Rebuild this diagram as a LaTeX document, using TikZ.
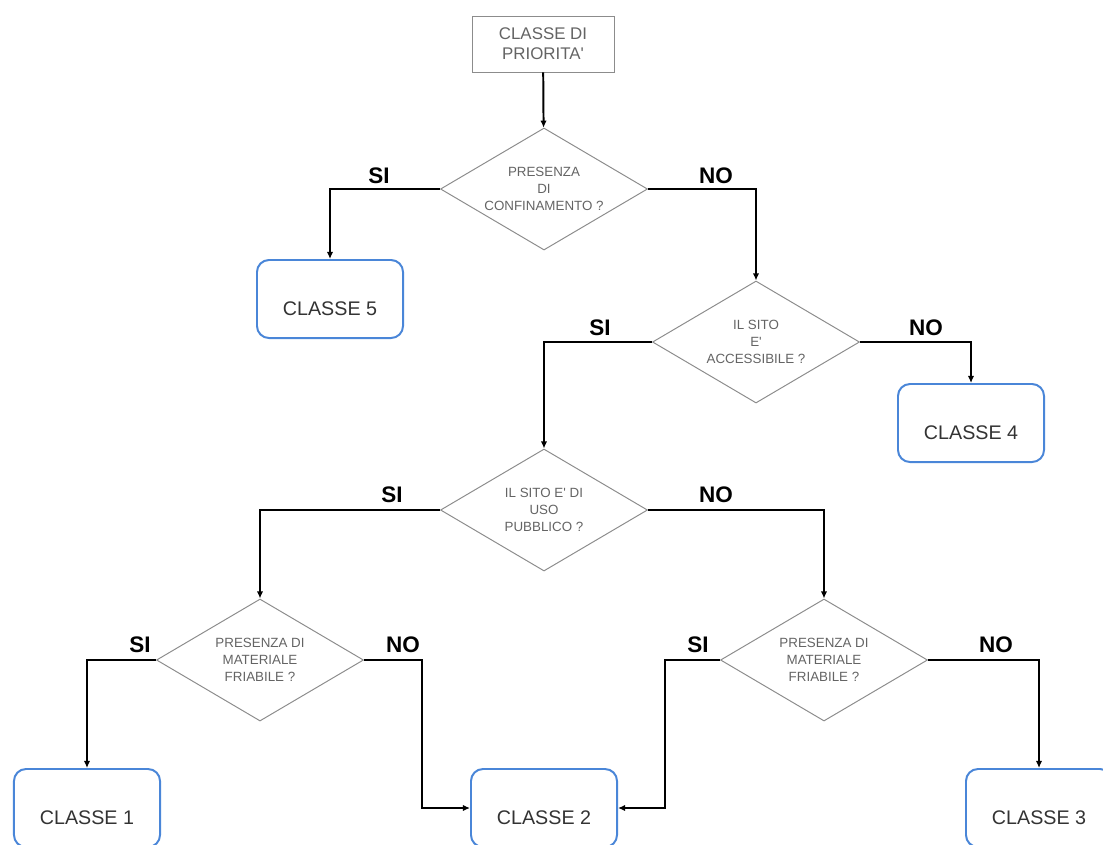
\documentclass[tikz,border=0pt]{standalone}
\usepackage{fontspec}
\setmainfont{Liberation Sans}
\usetikzlibrary{shapes.geometric,arrows.meta}

\definecolor{boxblue}{RGB}{74,134,216}
\definecolor{diagray}{RGB}{140,140,140}
\definecolor{txtgray}{RGB}{100,100,100}

\tikzset{
  conn/.style={>={Latex[length=5pt,width=4.5pt]}, ->, line width=1.4pt},
  question/.style={diamond, draw=diagray, line width=0.7pt, shape aspect=1.7,
    minimum width=5.175cm, minimum height=3.05cm, inner sep=0pt, align=center,
    text=txtgray, font=\fontsize{9.5}{12}\selectfont},
  classbox/.style={rectangle, rounded corners=0.3cm, draw=boxblue, line width=1.4pt,
    minimum width=3.65cm, minimum height=1.95cm, text=black!80,
    font=\fontsize{14}{16}\selectfont, text height=24pt, text depth=0pt},
  answer/.style={font=\fontsize{16}{18}\selectfont\bfseries}
}

\begin{document}
\begin{tikzpicture}[x=0.025cm, y=-0.025cm]

\useasboundingbox (0,0) rectangle (1103,844);

%% start
\node [draw=diagray, line width=0.6pt, minimum width=3.55cm, minimum height=1.4cm,
  align=center, text=txtgray, font=\fontsize{12}{14}\selectfont]
  (prio) at (543,44) {CLASSE DI\\PRIORITA\textquotesingle};

%% questions
\node [question] (q1) at (544,189) {PRESENZA\\DI\\CONFINAMENTO ?};
\node [question] (q2) at (756,342) {IL SITO\\E\textquotesingle\\ACCESSIBILE ?};
\node [question] (q3) at (544,510) {IL SITO E\textquotesingle{} DI\\USO\\PUBBLICO ?};
\node [question] (q4) at (260,660) {PRESENZA DI\\MATERIALE\\FRIABILE ?};
\node [question] (q5) at (824,660) {PRESENZA DI\\MATERIALE\\FRIABILE ?};

%% classes
\node [classbox] (c5) at (330,299) {CLASSE 5};
\node [classbox] (c4) at (971,423) {CLASSE 4};
\node [classbox] (c1) at (87,808) {CLASSE 1};
\node [classbox] (c2) at (544,808) {CLASSE 2};
\node [classbox] (c3) at (1039,808) {CLASSE 3};

%% connectors
\draw [conn] (prio) -- (q1);
\draw [conn] (q1.west) -| (c5.north);
\draw [conn] (q1.east) -| (q2.north);
\draw [conn] (q2.west) -| (q3.north);
\draw [conn] (q2.east) -| (c4.north);
\draw [conn] (q3.west) -| (q4.north);
\draw [conn] (q3.east) -| (q5.north);
\draw [conn] (q4.west) -| (c1.north);
\draw [conn] (q4.east) -- ++(58,0) |- (c2.west);
\draw [conn] (q5.west) -- ++(-55,0) |- (c2.east);
\draw [conn] (q5.east) -| (c3.north);

%% answers
\node [answer] (si1) at (379,176) {SI};
\node [answer] (no1) at (716,176) {NO};
\node [answer] (si2) at (600,328) {SI};
\node [answer] (no2) at (926,328) {NO};
\node [answer] (si3) at (392,495) {SI};
\node [answer] (no3) at (716,495) {NO};
\node [answer] (si4) at (140,645) {SI};
\node [answer] (no4) at (403,645) {NO};
\node [answer] (si5) at (698,645) {SI};
\node [answer] (no5) at (996,645) {NO};

\end{tikzpicture}
\end{document}
